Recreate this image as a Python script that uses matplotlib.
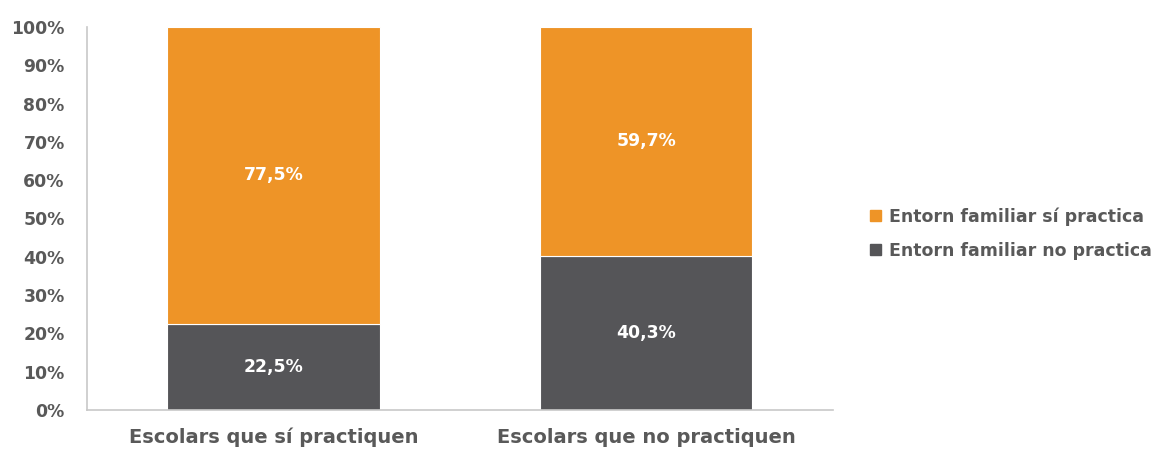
import matplotlib
matplotlib.use("Agg")
import matplotlib.pyplot as plt
from matplotlib.patches import Patch
from matplotlib import font_manager as fm

categories = ["Escolars que sí practiquen", "Escolars que no practiquen"]
no_practica = [22.5, 40.3]
si_practica = [77.5, 59.7]
series_labels = ["Entorn familiar sí practica", "Entorn familiar no practica"]
yticks = [0, 10, 20, 30, 40, 50, 60, 70, 80, 90, 100]

orange = "#EE9427"
dark = "#555558"
txt = "#595959"

def fp(size):
    return fm.FontProperties(family="DejaVu Sans", weight="bold", size=size)

fig = plt.figure(figsize=(11.58, 4.49), dpi=100)
ax = fig.add_axes([0.075, 0.087, 0.644, 0.853])

x = list(range(len(categories)))
w = 0.57
ax.bar(x, no_practica, width=w, color=dark, edgecolor="white", linewidth=0.8)
ax.bar(x, si_practica, width=w, bottom=no_practica, color=orange, edgecolor="white", linewidth=0.8)

for i in x:
    ax.text(i, no_practica[i] / 2, f"{no_practica[i]:.1f}%".replace(".", ","),
            ha="center", va="center", color="white", fontproperties=fp(12.4))
    ax.text(i, no_practica[i] + si_practica[i] / 2, f"{si_practica[i]:.1f}%".replace(".", ","),
            ha="center", va="center", color="white", fontproperties=fp(12.4))

ax.set_xlim(-0.5, 1.5)
ax.set_ylim(0, 100)
ax.set_yticks(yticks)
ax.set_yticklabels([f"{t}%" for t in yticks], fontproperties=fp(12.4))
ax.set_xticks(x)
ax.set_xticklabels(categories, fontproperties=fp(14))
ax.tick_params(axis="y", length=0, labelcolor=txt, pad=16)
ax.tick_params(axis="x", length=0, labelcolor=txt, pad=13)
for s in ["top", "right"]:
    ax.spines[s].set_visible(False)
ax.spines["left"].set_color("#C8C8C8")
ax.spines["bottom"].set_color("#C8C8C8")
ax.spines["left"].set_linewidth(1.2)
ax.spines["bottom"].set_linewidth(1.2)

handles = [Patch(color=orange), Patch(color=dark)]
leg = fig.legend(handles, series_labels, loc="center left", bbox_to_anchor=(0.738, 0.48),
                 frameon=False, prop=fp(12.5), handlelength=0.6, handleheight=0.6,
                 handletextpad=0.5, labelspacing=0.9)
for t in leg.get_texts():
    t.set_color(txt)

fig.savefig("out.png", dpi=100)
